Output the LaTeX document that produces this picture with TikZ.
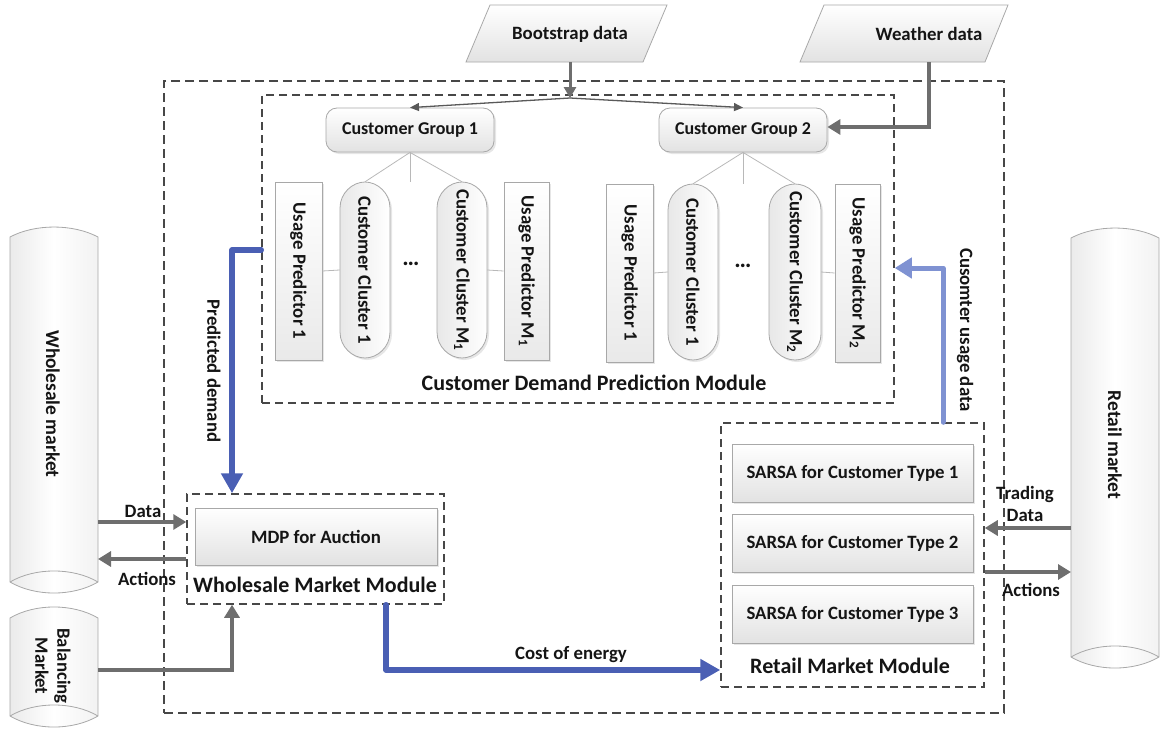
\documentclass[tikz,border=0pt]{standalone}
\usepackage{fontspec}
\setmainfont{Carlito}
\usetikzlibrary{arrows.meta,shadows}
\definecolor{dashgray}{HTML}{474747}
\definecolor{arrowgray}{HTML}{6E6E6E}
\definecolor{boxline}{HTML}{A8A8A8}
\definecolor{boxfill}{HTML}{E2E2E2}
\definecolor{cylfill}{HTML}{F2F2F2}
\definecolor{flowblue}{HTML}{4A5FB4}
\definecolor{lightblue}{HTML}{7F92D2}
\definecolor{treegray}{HTML}{B8B8B8}
\definecolor{ink}{HTML}{151515}
\tikzset{
  lbl/.style={font=\bfseries\fontsize{18.8}{22}\selectfont, text=ink, inner sep=0pt},
  title/.style={font=\bfseries\fontsize{22}{26}\selectfont, text=ink, inner sep=0pt},
  module/.style={draw=dashgray, line width=1.5pt, dash pattern=on 8pt off 5pt, inner sep=0pt},
  outerframe/.style={draw=dashgray, line width=1.8pt, dash pattern=on 9pt off 5pt, inner sep=0pt},
  unit/.style={draw=boxline, line width=0.8pt, top color=white, bottom color=boxfill, inner sep=0pt,
    font=\bfseries\fontsize{18.8}{22}\selectfont, text=ink},
  shadowed/.style={drop shadow={opacity=0.2, shadow xshift=2pt, shadow yshift=-2pt}},
  group/.style={unit, shadowed, rounded corners=11pt, minimum width=168pt, minimum height=44pt,
    font=\bfseries\fontsize{18}{21}\selectfont},
  sarsa/.style={unit, shadowed, minimum width=241pt, minimum height=58pt},
  predictor/.style={unit, shadowed, rotate=-90, minimum width=178pt, top color=white, bottom color=boxfill!75},
  clusterbody/.style={draw=boxline, line width=0.8pt, left color=boxfill!80, right color=white, shadowed},
  clustertext/.style={font=\bfseries\fontsize{18.8}{22}\selectfont, text=ink, rotate=-90, inner sep=0pt,
    minimum width=176pt},
  dots/.style={font=\bfseries\fontsize{24}{26}\selectfont, text=ink, inner sep=0pt},
  para/.style={draw=boxline, line width=0.8pt, top color=white, bottom color=boxfill},
  cyl/.style={draw=boxline, line width=0.8pt, left color=boxfill!70, right color=cylfill, middle color=white},
  tree/.style={draw=treegray, line width=0.8pt},
  grayflow/.style={draw=arrowgray, line width=3.2pt, -{Triangle[length=13pt,width=15pt]}},
  thinflow/.style={draw=dashgray!90, line width=1.3pt, -{Triangle[length=9pt,width=8pt]}},
  blueflow/.style={draw=flowblue, line width=5.5pt, line cap=round, line join=round, -{Triangle[length=20pt,width=21pt]}},
  lightflow/.style={draw=lightblue, line width=5pt, line cap=round, line join=round, -{Triangle[length=17pt,width=20pt]}},
}
% outline of a customer cluster: centre x, top y, bottom y, width
\newcommand{\drawclusterbody}[4]{%
  \path[clusterbody] ({#1-#4/2},{#2+26}) .. controls ({#1-#4/2},{#2+11}) and ({#1-#4*0.25},#2) .. (#1,#2)
    .. controls ({#1+#4*0.25},#2) and ({#1+#4/2},{#2+11}) .. ({#1+#4/2},{#2+26})
    -- ({#1+#4/2},{#3-26}) .. controls ({#1+#4/2},{#3-11}) and ({#1+#4*0.25},#3) .. (#1,#3)
    .. controls ({#1-#4*0.25},#3) and ({#1-#4/2},{#3-11}) .. ({#1-#4/2},{#3-26}) -- cycle;}
\begin{document}
\begin{tikzpicture}[x=1pt,y=-1pt]
\useasboundingbox (0,0) rectangle (1165,736);

% outer system frame and the module frames
\node[outerframe, minimum width=840pt, minimum height=632pt] (sys) at (584,397) {};
\node[module, minimum width=632pt, minimum height=308pt] (cdp) at (578,249) {};
\node[module, minimum width=257pt, minimum height=110pt] (wmm) at (315.5,549) {};
\node[module, minimum width=263pt, minimum height=264pt] (rmm) at (852.5,555) {};

\node[title] (cdpt) at (594,383) {Customer Demand Prediction Module};
\node[title] (wmmt) at (315,585) {Wholesale Market Module};
\node[title] (rmmt) at (850,666) {Retail Market Module};

% data sources
\draw[para] (466,62) -- (643,62) -- (667,5) -- (490,5) -- cycle;
\node[lbl] (boot) at (570,34) {Bootstrap data};
\draw[para] (800,62) -- (985,62) -- (1008,5) -- (824,5) -- cycle;
\node[lbl] (weather) at (929,34) {Weather data};
\coordinate (bootb) at (570,62);
\coordinate (weatherb) at (929,62);

% market cylinders
\path[cyl] (10,237) .. controls (35,223.7) and (73,223.7) .. (98,237) -- (98,582)
  .. controls (73,596.7) and (35,596.7) .. (10,582) -- cycle;
\draw[boxline, line width=0.8pt] (10,582) .. controls (35,567.3) and (73,567.3) .. (98,582);
\node[lbl, font=\bfseries\fontsize{19.5}{22}\selectfont, rotate=-90] (whm) at (53,404) {Wholesale market};

\path[cyl] (10,618) .. controls (35,603.3) and (73,603.3) .. (98,618) -- (98,716)
  .. controls (73,730.7) and (35,730.7) .. (10,716) -- cycle;
\draw[boxline, line width=0.8pt] (10,716) .. controls (35,701.3) and (73,701.3) .. (98,716);
\node[lbl, rotate=-90, align=center] (bal) at (53,666) {Balancing\\Market};

\path[cyl] (1071,238) .. controls (1096,224.7) and (1134,224.7) .. (1159,238) -- (1159,657)
  .. controls (1134,671.7) and (1096,671.7) .. (1071,657) -- cycle;
\draw[boxline, line width=0.8pt] (1071,657) .. controls (1096,642.3) and (1134,642.3) .. (1159,657);
\node[lbl, font=\bfseries\fontsize{19.5}{22}\selectfont, rotate=-90] (rtm) at (1115,445) {Retail market};

% customer groups
\node[group] (g1) at (410,130) {Customer Group 1};
\node[group] (g2) at (743,130) {Customer Group 2};

% group 1 columns
\node[predictor, minimum height=47pt] (p11) at (298.5,271) {Usage Predictor 1};
\drawclusterbody{365}{182}{358}{50}
\node[clustertext, minimum height=50pt] (c11) at (365,270) {Customer Cluster 1};
\node[dots] (d1) at (411,264) {\ldots};
\drawclusterbody{462}{182}{358}{50}
\node[clustertext, minimum height=50pt] (c1m) at (462,270) {Customer Cluster M\textsubscript{1}};
\node[predictor, minimum height=45pt] (p1m) at (526.5,271) {Usage Predictor M\textsubscript{1}};

% group 2 columns
\node[predictor, minimum height=47pt] (p21) at (629.5,273) {Usage Predictor 1};
\drawclusterbody{693}{184}{360}{50}
\node[clustertext, minimum height=50pt] (c21) at (693,272) {Customer Cluster 1};
\node[dots] (d2) at (743,266) {\ldots};
\drawclusterbody{795}{184}{360}{52}
\node[clustertext, minimum height=52pt] (c2m) at (795,272) {Customer Cluster M\textsubscript{2}};
\node[predictor, minimum height=45pt] (p2m) at (857.5,273) {Usage Predictor M\textsubscript{2}};

% cluster trees
\draw[tree] (g1.south) -- (c11.west);
\draw[tree] (g1.south) -- (g1.south |- c11.west);
\draw[tree] (g1.south) -- (c1m.west);
\draw[tree] (p11.north) -- (c11.south);
\draw[tree] (c1m.north) -- (p1m.south);
\draw[tree] (g2.south) -- (c21.west);
\draw[tree] (g2.south) -- (g2.south |- c21.west);
\draw[tree] (g2.south) -- (c2m.west);
\draw[tree] (p21.north) -- (c21.south);
\draw[tree] (c2m.north) -- (p2m.south);

% market modules' internal units
\node[unit, shadowed, minimum width=242pt, minimum height=57pt] (mdp) at (316,536.5) {MDP for Auction};
\node[sarsa] (s1) at (852.5,473) {SARSA for Customer Type 1};
\node[sarsa] (s2) at (852.5,543) {SARSA for Customer Type 2};
\node[sarsa] (s3) at (852.5,614) {SARSA for Customer Type 3};

% bootstrap and weather feeds
\coordinate (split) at (570,98);
\draw[grayflow, line width=3pt, -{Triangle[length=11pt,width=12pt]}] (bootb) -- (split);
\draw[thinflow] (split) -- (g1.north);
\draw[thinflow] (split) -- (g2.north);
\coordinate (wturn) at (929,127);
\draw[grayflow] (weatherb) -- (wturn) -- (g2.east |- wturn);

% wholesale market exchanges
\coordinate (wdata) at (98,522);
\coordinate (wact) at (98,559);
\draw[grayflow] (wdata) -- (wmm.west |- wdata);
\draw[grayflow] (wmm.west |- wact) -- (wact);
\node[lbl] (wdatal) at (143,511) {Data};
\node[lbl] (wactl) at (147,579) {Actions};
\coordinate (bout) at (98,670);
\coordinate (bturn) at (232,670);
\draw[grayflow] (bout) -- (bturn) -- (bturn |- wmm.south);

% retail market exchanges
\coordinate (rdata) at (1071,528);
\coordinate (ract) at (1071,572);
\draw[grayflow] (rdata) -- (rmm.east |- rdata);
\draw[grayflow] (rmm.east |- ract) -- (ract);
\node[lbl, align=center] (rdatal) at (1025,504) {Trading\\Data};
\node[lbl] (ractl) at (1031,590) {Actions};

% internal flows
\coordinate (pdturn) at (232,250);
\draw[blueflow] (cdp.west |- pdturn) -- (pdturn) -- (pdturn |- wmm.north);
\node[lbl, rotate=-90] (pdl) at (214,371) {Predicted demand};

\coordinate (ceturn) at (386,670);
\draw[blueflow] (ceturn |- wmm.south) -- (ceturn) -- (rmm.west |- ceturn);
\node[lbl] (cel) at (571,655) {Cost of energy};

\coordinate (cuturn) at (943,268);
\draw[lightflow] (cuturn |- rmm.north) -- (cuturn) -- (cdp.east |- cuturn);
\node[lbl, rotate=-90] (cul) at (965,330) {Cusomter usage data};
\end{tikzpicture}
\end{document}
